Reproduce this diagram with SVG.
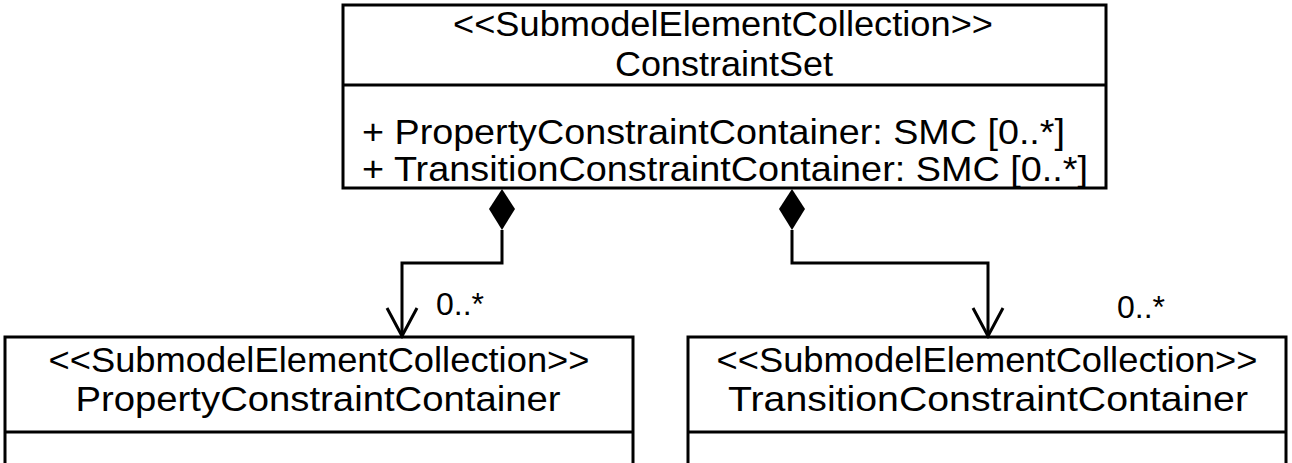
<svg xmlns="http://www.w3.org/2000/svg" width="1292" height="463" viewBox="0 0 1292 463">
<style>
.box{fill:#fff;stroke:#000;stroke-width:3}
.div{stroke:#000;stroke-width:3}
.t{font-family:"Liberation Sans",Arial,sans-serif;font-size:35px;fill:#000}
.c{text-anchor:middle}
.lbl{font-family:"Liberation Sans",Arial,sans-serif;font-size:32px;fill:#000}
.conn{fill:none;stroke:#000;stroke-width:3}
</style>
<rect width="1292" height="463" fill="#fff"/>
<g id="ConstraintSet">
<rect class="box" x="343" y="5" width="763" height="183"/>
<line class="div" x1="343" y1="85" x2="1106" y2="85"/>
<text class="t c" x="723" y="36" textLength="540" lengthAdjust="spacingAndGlyphs">&lt;&lt;SubmodelElementCollection&gt;&gt;</text>
<text class="t c" x="724" y="76" textLength="218" lengthAdjust="spacingAndGlyphs">ConstraintSet</text>
<text class="t" x="362" y="144" textLength="703" lengthAdjust="spacingAndGlyphs">+ PropertyConstraintContainer: SMC [0..*]</text>
<text class="t" x="362" y="181" textLength="726" lengthAdjust="spacingAndGlyphs">+ TransitionConstraintContainer: SMC [0..*]</text>
</g>
<g id="PropertyConstraintContainer">
<rect class="box" x="5" y="337" width="628" height="140"/>
<line class="div" x1="5" y1="432" x2="633" y2="432"/>
<text class="t c" x="319" y="372" textLength="541" lengthAdjust="spacingAndGlyphs">&lt;&lt;SubmodelElementCollection&gt;&gt;</text>
<text class="t c" x="318" y="411" textLength="485" lengthAdjust="spacingAndGlyphs">PropertyConstraintContainer</text>
</g>
<g id="TransitionConstraintContainer">
<rect class="box" x="688" y="337" width="598" height="140"/>
<line class="div" x1="688" y1="432" x2="1286" y2="432"/>
<text class="t c" x="987" y="372" textLength="541" lengthAdjust="spacingAndGlyphs">&lt;&lt;SubmodelElementCollection&gt;&gt;</text>
<text class="t c" x="988" y="411" textLength="520" lengthAdjust="spacingAndGlyphs">TransitionConstraintContainer</text>
</g>
<g id="connectors">
<path class="conn" d="M502 230 V263 H402 V336"/>
<polygon points="502,189 515,209 502,230 489,209" fill="#000"/>
<path class="conn" d="M387 308 L402 336 L417 308"/>
<text class="lbl" x="436" y="315">0..*</text>
<path class="conn" d="M792 230 V263 H988 V336"/>
<polygon points="792,189 805,209 792,230 779,209" fill="#000"/>
<path class="conn" d="M973 308 L988 336 L1003 308"/>
<text class="lbl" x="1117" y="318">0..*</text>
</g>
</svg>
